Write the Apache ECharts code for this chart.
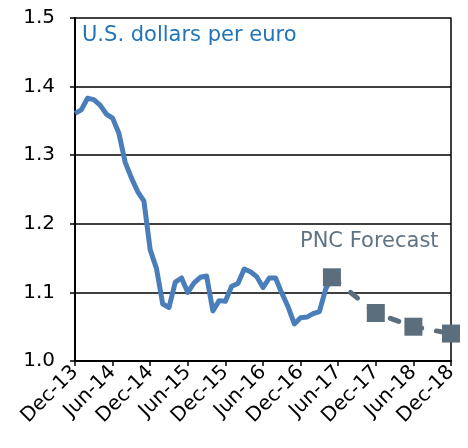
<!DOCTYPE html>
<html>
<head>
<meta charset="utf-8">
<script src="https://cdn.jsdelivr.net/npm/echarts@6/dist/echarts.min.js"></script>
<style>
  html, body { margin: 0; padding: 0; background: #fff; }
  #chart { width: 468px; height: 448px; }
</style>
</head>
<body>
<div id="chart"></div>
<script>
// month labels, Dec-13 .. Dec-18
const monthNames = ['Jan', 'Feb', 'Mar', 'Apr', 'May', 'Jun', 'Jul', 'Aug', 'Sep', 'Oct', 'Nov', 'Dec'];
const months = ['Dec-13'];
for (let y = 14; y <= 18; y++) {
    for (let m = 0; m < 12; m++) months.push(monthNames[m] + '-' + y);
}

// monthly history, starting at Dec-13
const history = [
    1.361, 1.366, 1.383, 1.381, 1.373, 1.360, 1.354, 1.332, 1.290, 1.267, 1.247, 1.233,
    1.162, 1.135, 1.083, 1.078, 1.115, 1.121, 1.100, 1.114, 1.122, 1.124, 1.073, 1.088,
    1.087, 1.109, 1.113, 1.134, 1.130, 1.123, 1.107, 1.121, 1.121, 1.099, 1.079, 1.054,
    1.063, 1.064, 1.069, 1.072, 1.105, 1.122
];

// PNC forecast points
const forecastMonths = ['May-17', 'Dec-17', 'Jun-18', 'Dec-18'];
const forecastValues = [1.122, 1.07, 1.05, 1.04];

const forecastData = months.map(function (m) {
    let i = forecastMonths.indexOf(m);
    return i >= 0 ? forecastValues[i] : null;
});

const font = 'DejaVu Sans';

let chart = echarts.init(document.getElementById('chart'));
chart.setOption({
    animation: false,
    grid: { left: 75, right: 17, top: 18, bottom: 87 },
    xAxis: {
        type: 'category',
        data: months,
        boundaryGap: false,
        axisLine: { lineStyle: { color: '#000', width: 2 } },
        axisTick: { alignWithLabel: true, interval: 5, length: 5, lineStyle: { color: '#000', width: 1.5 } },
        axisLabel: {
            interval: 5, rotate: 45, margin: 8,
            color: '#000', fontFamily: font, fontSize: 20
        }
    },
    yAxis: [{
        type: 'value',
        min: 1.0, max: 1.5, interval: 0.1,
        axisLine: { show: true, lineStyle: { color: '#000', width: 2 } },
        axisTick: { show: true, length: 5, lineStyle: { color: '#000', width: 1.5 } },
        axisLabel: {
            margin: 20, color: '#000', fontFamily: font, fontSize: 20,
            formatter: function (v) { return v.toFixed(1); }
        },
        splitLine: { lineStyle: { color: '#000', width: 1.5 } }
    }, {
        type: 'value',
        position: 'right',
        min: 1.0, max: 1.5, interval: 0.1,
        axisLine: { show: true, lineStyle: { color: '#000', width: 1.5 } },
        axisTick: { show: false },
        axisLabel: { show: false },
        splitLine: { show: false }
    }],
    series: [{
        type: 'line',
        data: history,
        showSymbol: false,
        lineStyle: { color: '#4A7EBB', width: 5, join: 'round' },
        z: 2
    }, {
        type: 'line',
        data: forecastData,
        connectNulls: true,
        showAllSymbol: true,
        symbol: 'rect',
        symbolSize: 18,
        itemStyle: { color: '#5B6E7E' },
        lineStyle: { color: '#5B6E7E', width: 5, type: [9, 15], cap: 'round' },
        z: 3
    }],
    graphic: [{
        type: 'text',
        left: 82, top: 25,
        style: { text: 'U.S. dollars per euro', fill: '#1F74BA', font: '21px "DejaVu Sans"' }
    }, {
        type: 'text',
        left: 300, top: 231,
        style: { text: 'PNC Forecast', fill: '#5F7383', font: '21px "DejaVu Sans"' }
    }]
});
</script>
</body>
</html>
